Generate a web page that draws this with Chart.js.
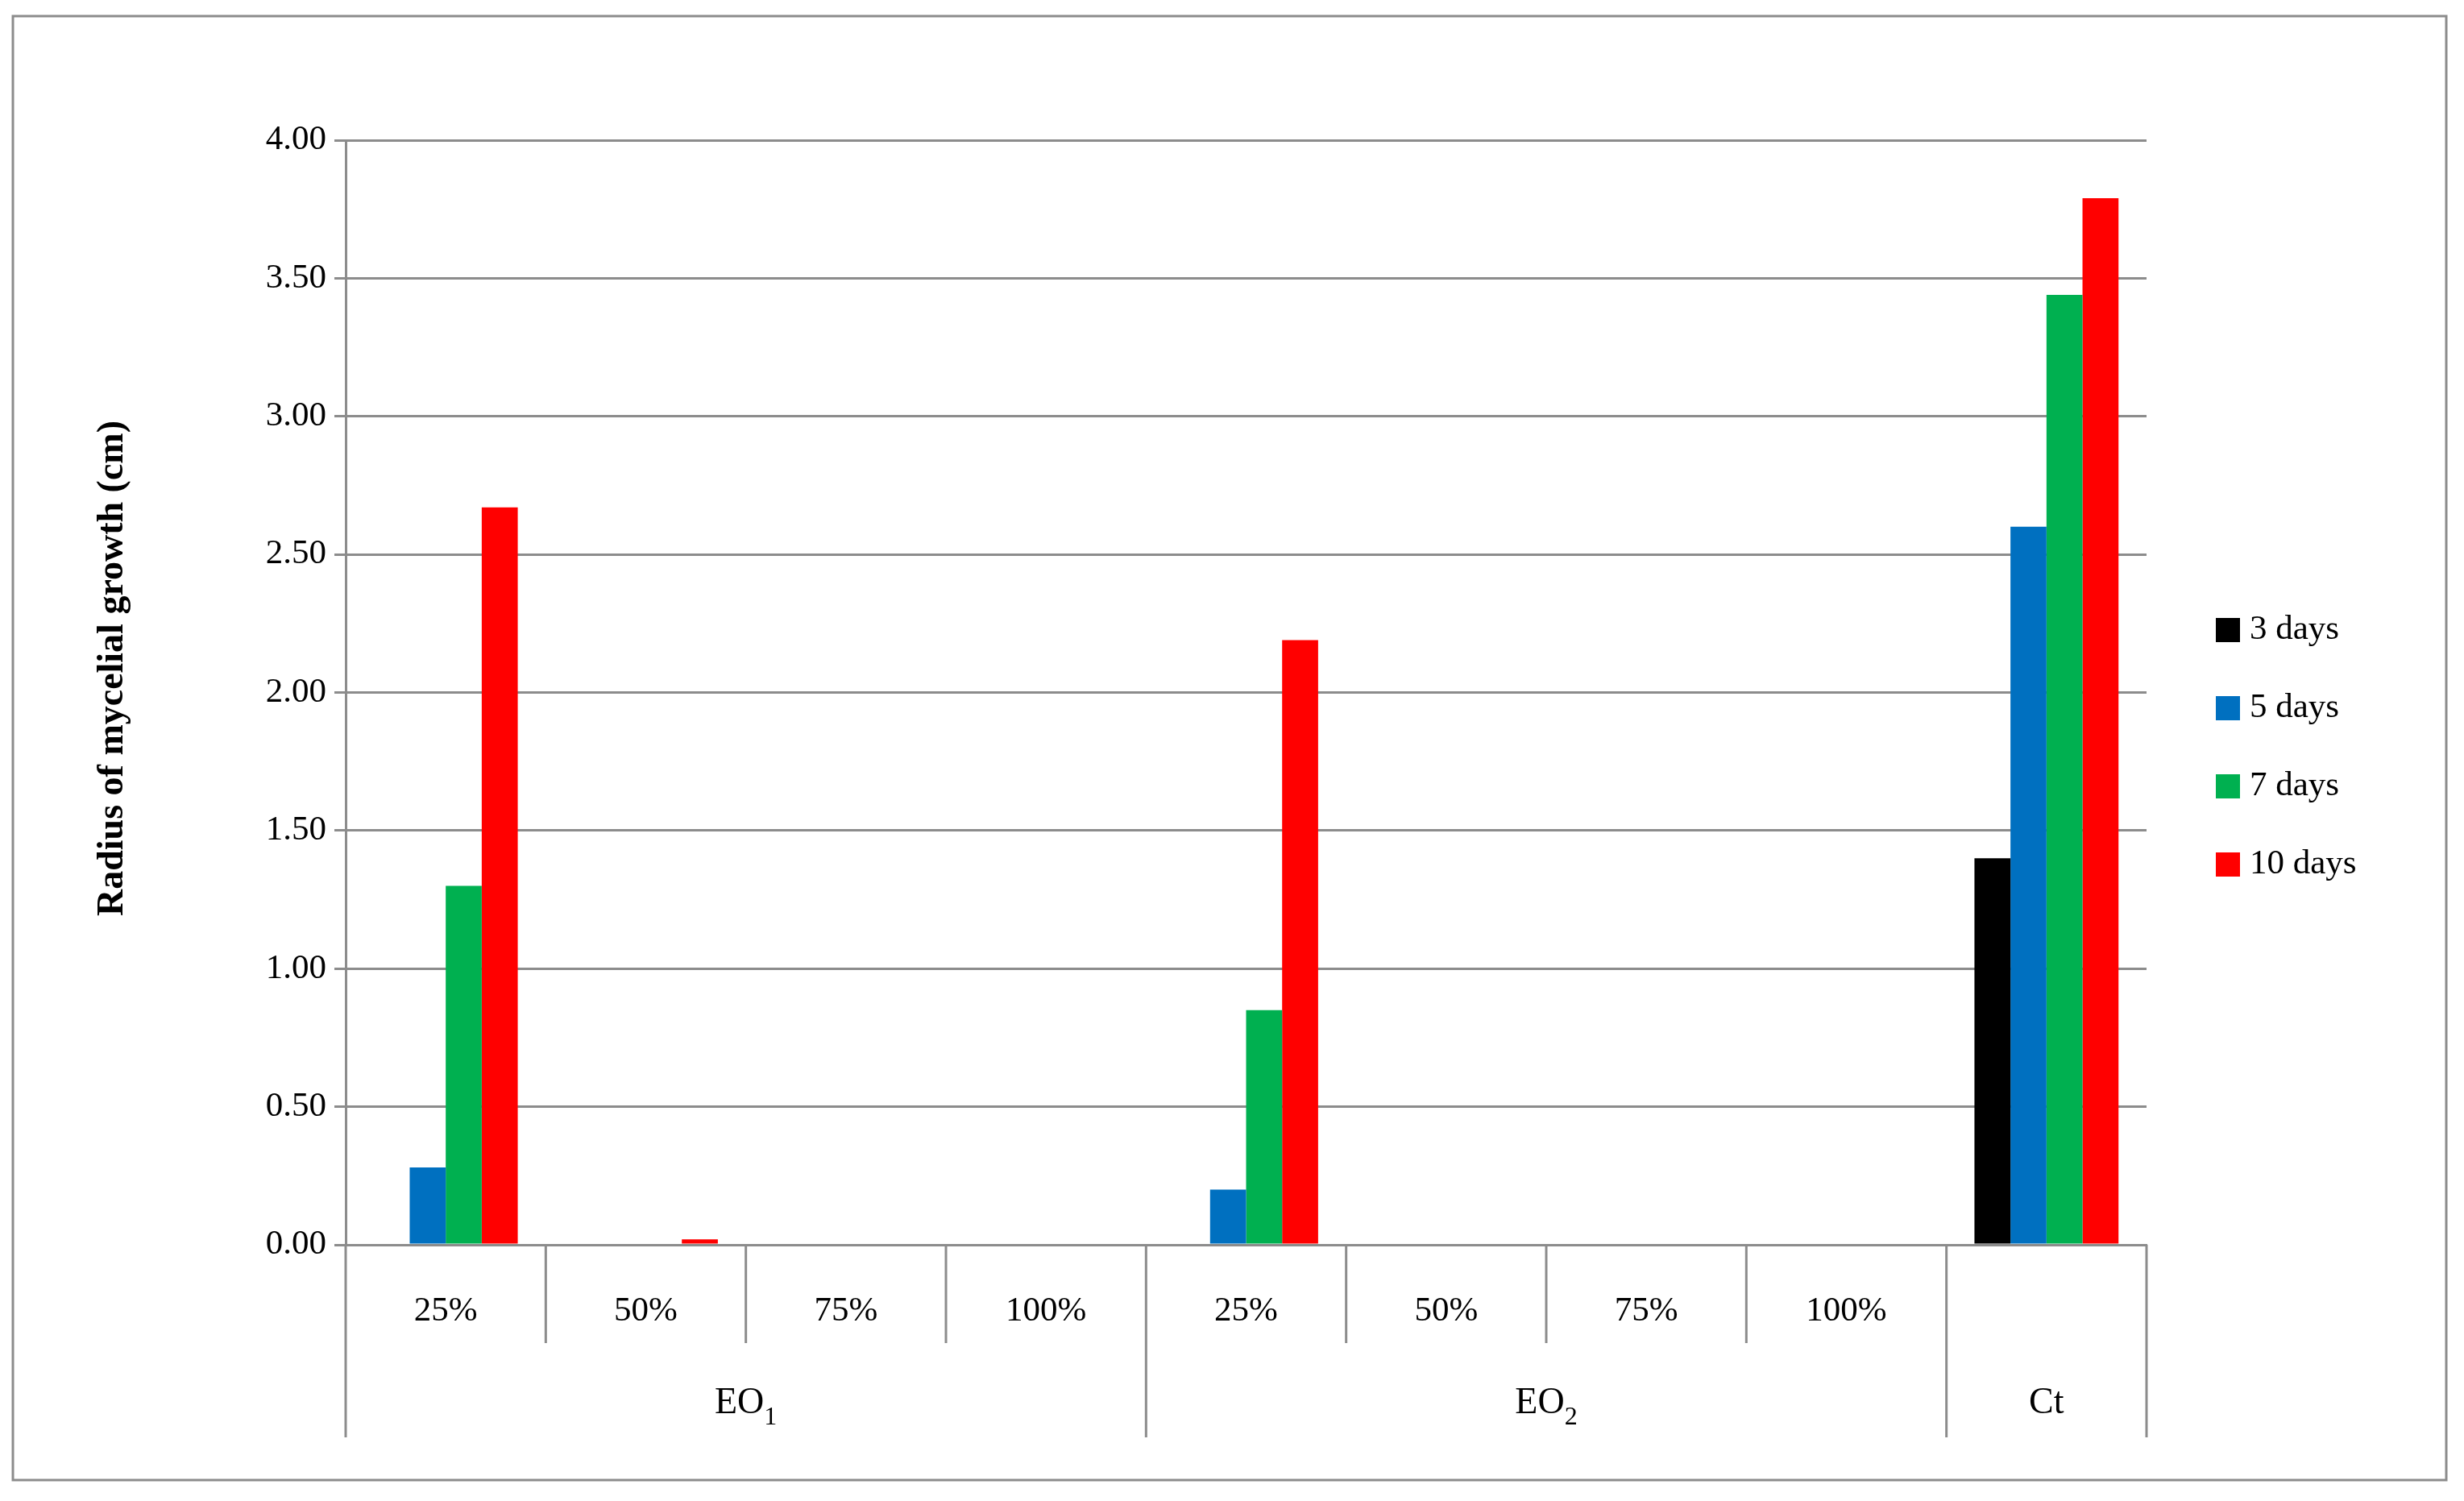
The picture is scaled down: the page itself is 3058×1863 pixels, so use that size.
<!DOCTYPE html>
<html>
<head>
<meta charset="utf-8">
<script src="https://cdn.jsdelivr.net/npm/chart.js@4"></script>
<style>
  body { margin: 0; background: #fff; }
  canvas { display: block; }
</style>
</head>
<body>
<canvas id="chart" width="3058" height="1863"></canvas>
<script>
const concentrations = ["25%", "50%", "75%", "100%", "25%", "50%", "75%", "100%", ""];
const groups = [
    { name: "EO", sub: "1", from: 0, to: 3 },
    { name: "EO", sub: "2", from: 4, to: 7 },
    { name: "Ct", sub: "", from: 8, to: 8 }
];
const seriesNames = ["3 days", "5 days", "7 days", "10 days"];
const seriesColors = ["#000000", "#0070c0", "#00b050", "#ff0000"];
const days3 = [0, 0, 0, 0, 0, 0, 0, 0, 1.40];
const days5 = [0.28, 0, 0, 0, 0.20, 0, 0, 0, 2.60];
const days7 = [1.30, 0, 0, 0, 0.85, 0, 0, 0, 3.44];
const days10 = [2.67, 0.02, 0, 0, 2.19, 0, 0, 0, 3.79];
const yTitle = "Radius of mycelial growth (cm)";

const FONT = "'Liberation Serif', 'DejaVu Serif', serif";
const GRID = "#8c8c8c";

const decorPlugin = {
    id: "decor",
    beforeDraw(chart) {
        const ctx = chart.ctx;
        ctx.save();
        ctx.fillStyle = "#fff";
        ctx.fillRect(0, 0, chart.width, chart.height);
        ctx.strokeStyle = "#8c8c8c";
        ctx.lineWidth = 3;
        ctx.strokeRect(16, 20, 3020, 1817);
        ctx.restore();
    },
    afterDraw(chart) {
        const ctx = chart.ctx;
        const x = chart.scales.x;
        const area = chart.chartArea;
        const step = (area.right - area.left) / concentrations.length;
        ctx.save();
        ctx.strokeStyle = GRID;
        ctx.lineWidth = 3;
        // category separators
        for (let i = 0; i <= concentrations.length; i++) {
            const px = area.left + i * step;
            const isGroupEdge = groups.some(g => g.from === i || g.to + 1 === i);
            ctx.beginPath();
            ctx.moveTo(px, area.bottom);
            ctx.lineTo(px, isGroupEdge ? 1784 : 1667);
            ctx.stroke();
        }
        ctx.fillStyle = "#000";
        ctx.font = "43px " + FONT;
        ctx.textAlign = "center";
        ctx.textBaseline = "middle";
        concentrations.forEach((c, i) => {
            ctx.fillText(c, x.getPixelForValue(i), 1628);
        });
        // group labels
        groups.forEach(g => {
            const cx = (x.getPixelForValue(g.from) + x.getPixelForValue(g.to)) / 2;
            ctx.font = "46px " + FONT;
            const w1 = ctx.measureText(g.name).width;
            ctx.font = "32px " + FONT;
            const w2 = g.sub ? ctx.measureText(g.sub).width : 0;
            const start = cx - (w1 + w2) / 2;
            ctx.textAlign = "left";
            ctx.font = "46px " + FONT;
            ctx.fillText(g.name, start, 1742);
            ctx.font = "32px " + FONT;
            if (g.sub) ctx.fillText(g.sub, start + w1, 1760);
        });
        // y title
        ctx.save();
        ctx.translate(140, (area.top + area.bottom) / 2 - 30);
        ctx.rotate(-Math.PI / 2);
        ctx.textAlign = "center";
        ctx.font = "bold 46px " + FONT;
        ctx.fillText(yTitle, 0, 0);
        ctx.restore();
        // legend
        seriesNames.forEach((n, i) => {
            const ly = 782 + i * 97;
            ctx.fillStyle = seriesColors[i];
            ctx.fillRect(2750, ly - 15, 30, 30);
            ctx.fillStyle = "#000";
            ctx.font = "43px " + FONT;
            ctx.textAlign = "left";
            ctx.fillText(n, 2792, ly);
        });
        ctx.restore();
    }
};

new Chart(document.getElementById("chart"), {
    type: "bar",
    data: {
        labels: concentrations.map((c, i) => i),
        datasets: [days3, days5, days7, days10].map((d, i) => ({
            label: seriesNames[i],
            data: d,
            backgroundColor: seriesColors[i],
            categoryPercentage: 0.72,
            barPercentage: 1.0
        }))
    },
    options: {
        responsive: false,
        animation: false,
        layout: { padding: { top: 174, right: 394, left: 0, bottom: 0 } },
        plugins: { legend: { display: false }, tooltip: { enabled: false } },
        scales: {
            x: {
                grid: { display: false },
                border: { color: GRID, width: 3 },
                ticks: { display: false },
                afterFit: s => { s.height = 318; }
            },
            y: {
                min: 0,
                max: 4,
                grid: { color: GRID, lineWidth: 3, drawTicks: true, tickLength: 14 },
                border: { color: GRID, width: 3 },
                ticks: {
                    stepSize: 0.5,
                    padding: 10,
                    color: "#000",
                    font: { family: FONT, size: 43 },
                    callback: v => v.toFixed(2)
                },
                afterFit: s => { s.width = 429; }
            }
        }
    },
    plugins: [decorPlugin]
});
</script>
</body>
</html>
